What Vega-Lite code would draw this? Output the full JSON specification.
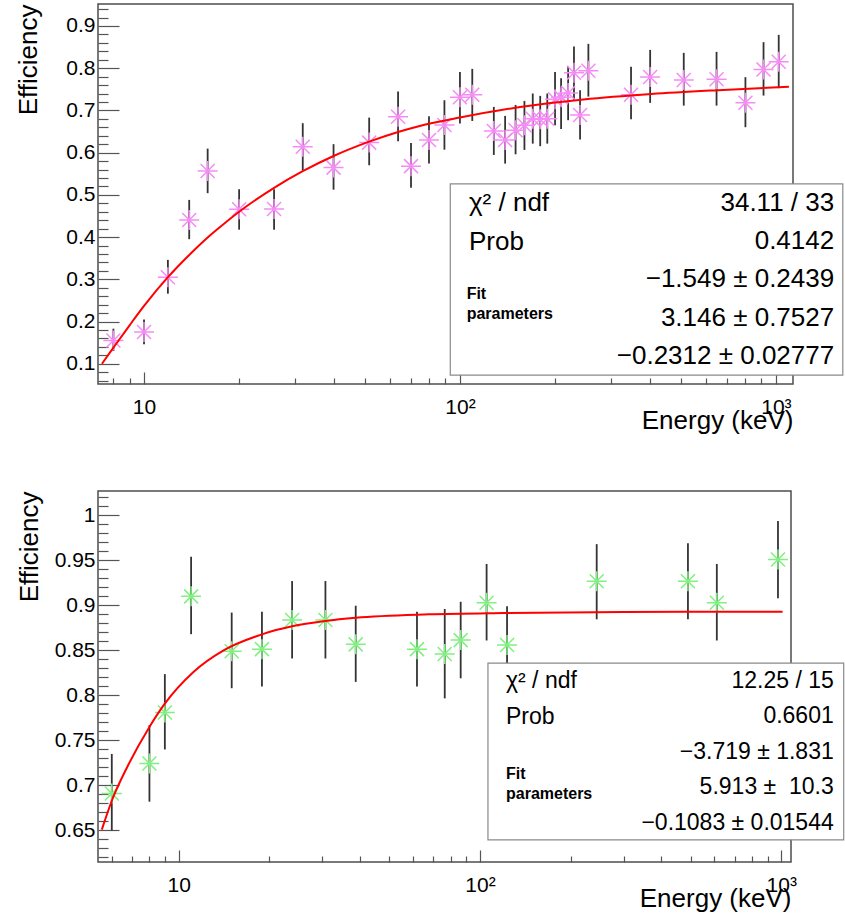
{
  "$schema": "https://vega.github.io/schema/vega-lite/v6.json",
  "padding": {"left": 15, "top": 3, "right": 0, "bottom": 0},
  "background": "white",
  "spacing": 56,
  "config": {
    "font": "Liberation Sans",
    "view": {"stroke": "#4d4d4d", "strokeWidth": 1.5},
    "axis": {
      "grid": false, "domain": false,
      "labelFont": "Liberation Sans", "labelFontSize": 21, "labelColor": "#000",
      "titleFont": "Liberation Sans", "titleFontSize": 26, "titleFontWeight": "normal", "titleColor": "#000",
      "tickColor": "#555", "tickWidth": 1.2, "labelFlush": false, "labelOverlap": false
    }
  },
  "datasets": {
    "top_pts": [
      {"E": 8.0, "eff": 0.155, "lo": 0.130, "hi": 0.183},
      {"E": 10, "eff": 0.175, "lo": 0.146, "hi": 0.205},
      {"E": 11.9, "eff": 0.305, "lo": 0.266, "hi": 0.346},
      {"E": 13.9, "eff": 0.4405, "lo": 0.395, "hi": 0.488},
      {"E": 15.9, "eff": 0.5566, "lo": 0.504, "hi": 0.6095},
      {"E": 20, "eff": 0.466, "lo": 0.4175, "hi": 0.5133},
      {"E": 25.8, "eff": 0.4665, "lo": 0.4175, "hi": 0.5133},
      {"E": 31.8, "eff": 0.614, "lo": 0.5583, "hi": 0.6697},
      {"E": 39.8, "eff": 0.5645, "lo": 0.5123, "hi": 0.62},
      {"E": 51.6, "eff": 0.6237, "lo": 0.5701, "hi": 0.683},
      {"E": 63.7, "eff": 0.685, "lo": 0.627, "hi": 0.7446},
      {"E": 70, "eff": 0.568, "lo": 0.517, "hi": 0.623},
      {"E": 79.8, "eff": 0.63, "lo": 0.574, "hi": 0.6863},
      {"E": 89.3, "eff": 0.6656, "lo": 0.607, "hi": 0.724},
      {"E": 100, "eff": 0.731, "lo": 0.6687, "hi": 0.7912},
      {"E": 109.4, "eff": 0.737, "lo": 0.675, "hi": 0.7983},
      {"E": 128, "eff": 0.651, "lo": 0.5945, "hi": 0.7083},
      {"E": 139, "eff": 0.63, "lo": 0.574, "hi": 0.687},
      {"E": 150, "eff": 0.653, "lo": 0.596, "hi": 0.713},
      {"E": 160, "eff": 0.665, "lo": 0.6064, "hi": 0.7225},
      {"E": 170, "eff": 0.68, "lo": 0.6213, "hi": 0.74},
      {"E": 179.5, "eff": 0.679, "lo": 0.6152, "hi": 0.7344},
      {"E": 189, "eff": 0.68, "lo": 0.6213, "hi": 0.74},
      {"E": 200, "eff": 0.7266, "lo": 0.665, "hi": 0.7912},
      {"E": 209, "eff": 0.731, "lo": 0.6562, "hi": 0.7763},
      {"E": 220, "eff": 0.741, "lo": 0.6768, "hi": 0.8038},
      {"E": 229.6, "eff": 0.789, "lo": 0.7242, "hi": 0.8512},
      {"E": 240, "eff": 0.689, "lo": 0.6308, "hi": 0.7479},
      {"E": 255, "eff": 0.794, "lo": 0.7327, "hi": 0.8576},
      {"E": 348, "eff": 0.737, "lo": 0.6791, "hi": 0.8031},
      {"E": 400, "eff": 0.779, "lo": 0.7178, "hi": 0.8433},
      {"E": 511, "eff": 0.772, "lo": 0.7114, "hi": 0.8363},
      {"E": 649, "eff": 0.774, "lo": 0.7114, "hi": 0.8386},
      {"E": 801, "eff": 0.718, "lo": 0.6602, "hi": 0.7787},
      {"E": 914, "eff": 0.797, "lo": 0.7351, "hi": 0.8616},
      {"E": 1021, "eff": 0.815, "lo": 0.7526, "hi": 0.8789}
    ],
    "top_fit": [
      {"E": 7.36, "eff": 0.1}, {"E": 8, "eff": 0.138}, {"E": 9, "eff": 0.191}, {"E": 10, "eff": 0.237},
      {"E": 12, "eff": 0.308}, {"E": 14, "eff": 0.36}, {"E": 16, "eff": 0.401},
      {"E": 17.8, "eff": 0.43}, {"E": 20, "eff": 0.46}, {"E": 25.8, "eff": 0.5166},
      {"E": 31.8, "eff": 0.556}, {"E": 39.8, "eff": 0.592}, {"E": 51.6, "eff": 0.626},
      {"E": 63.7, "eff": 0.649}, {"E": 73.6, "eff": 0.662}, {"E": 100, "eff": 0.683},
      {"E": 155, "eff": 0.708}, {"E": 246, "eff": 0.726}, {"E": 404, "eff": 0.739},
      {"E": 656, "eff": 0.748}, {"E": 1100, "eff": 0.756}
    ],
    "top_stats": [
      {"labels": ["χ² / ndf", "Prob"],
       "values": ["34.11 / 33", "0.4142", "−1.549 ± 0.2439", "3.146 ± 0.7527", "−0.2312 ± 0.02777"],
       "fit": ["Fit", "parameters"]}
    ],
    "bot_pts": [
      {"E": 6.0, "eff": 0.691, "lo": 0.65, "hi": 0.735},
      {"E": 8.0, "eff": 0.7244, "lo": 0.682, "hi": 0.767},
      {"E": 9.0, "eff": 0.781, "lo": 0.74, "hi": 0.8237},
      {"E": 11.0, "eff": 0.91, "lo": 0.868, "hi": 0.954},
      {"E": 15.0, "eff": 0.849, "lo": 0.808, "hi": 0.892},
      {"E": 18.9, "eff": 0.8514, "lo": 0.81, "hi": 0.893},
      {"E": 23.8, "eff": 0.8837, "lo": 0.841, "hi": 0.927},
      {"E": 30.7, "eff": 0.8837, "lo": 0.841, "hi": 0.927},
      {"E": 38.7, "eff": 0.8567, "lo": 0.815, "hi": 0.8996},
      {"E": 61.8, "eff": 0.8514, "lo": 0.81, "hi": 0.893},
      {"E": 76.4, "eff": 0.846, "lo": 0.7967, "hi": 0.896},
      {"E": 86.3, "eff": 0.8614, "lo": 0.819, "hi": 0.904},
      {"E": 105.2, "eff": 0.903, "lo": 0.861, "hi": 0.946},
      {"E": 123, "eff": 0.856, "lo": 0.813, "hi": 0.899},
      {"E": 244, "eff": 0.9267, "lo": 0.8845, "hi": 0.968},
      {"E": 490, "eff": 0.9267, "lo": 0.8845, "hi": 0.969},
      {"E": 611, "eff": 0.903, "lo": 0.861, "hi": 0.946},
      {"E": 975, "eff": 0.951, "lo": 0.908, "hi": 0.9937}
    ],
    "bot_fit": [
      {"E": 5.56, "eff": 0.651}, {"E": 6.0, "eff": 0.683}, {"E": 6.74, "eff": 0.72},
      {"E": 8.0, "eff": 0.765}, {"E": 8.96, "eff": 0.79}, {"E": 11.2, "eff": 0.826},
      {"E": 14.1, "eff": 0.85}, {"E": 18.9, "eff": 0.8678}, {"E": 23.8, "eff": 0.8767},
      {"E": 30.7, "eff": 0.8826}, {"E": 38.7, "eff": 0.8862}, {"E": 67.7, "eff": 0.89},
      {"E": 120, "eff": 0.8915}, {"E": 300, "eff": 0.8925}, {"E": 1010, "eff": 0.893}
    ],
    "bot_stats": [
      {"labels": ["χ² / ndf", "Prob"],
       "values": ["12.25 / 15", "0.6601", "−3.719 ± 1.831", "5.913 ±\u00a0 10.3", "−0.1083 ± 0.01544"],
       "fit": ["Fit", "parameters"]}
    ]
  },
  "vconcat": [
    {
      "width": 695, "height": 380,
      "resolve": {"axis": {"x": "independent", "y": "independent"}},
      "layer": [
        {
          "data": {"name": "top_pts"},
          "mark": {"type": "rule", "color": "#333", "strokeWidth": 1.8},
          "encoding": {
            "x": {"field": "E", "type": "quantitative",
                  "scale": {"type": "log", "domain": [7.15, 1133], "nice": false},
                  "axis": {"orient": "bottom", "values": [10, 100, 1000],
                           "labelExpr": "datum.value == 10 ? '10' : datum.value == 100 ? '10²' : '10³'",
                           "tickSize": -12, "labelPadding": 24, "title": "Energy (keV)",
                           "titleAnchor": "end", "titlePadding": -10}},
            "y": {"field": "lo", "type": "quantitative",
                  "scale": {"domain": [0.052, 0.952], "nice": false, "zero": false},
                  "axis": {"orient": "left", "values": [0.1, 0.2, 0.3, 0.4, 0.5, 0.6, 0.7, 0.8, 0.9],
                           "format": "~g", "tickSize": -21, "labelPadding": 24,
                           "title": "Efficiency", "titleAnchor": "end", "titlePadding": 24}},
            "y2": {"field": "hi"}
          }
        },
        {
          "data": {"name": "top_pts"},
          "mark": {"type": "point", "shape": "M-1,0L1,0M0,-1L0,1M-0.7,-0.7L0.7,0.7M-0.7,0.7L0.7,-0.7",
                   "size": 400, "filled": false, "stroke": "#f58cf5", "strokeWidth": 1.5, "opacity": 1},
          "encoding": {
            "x": {"field": "E", "type": "quantitative",
                  "scale": {"type": "log", "domain": [7.15, 1133], "nice": false},
                  "axis": {"orient": "bottom", "values": [8, 9, 20, 30, 40, 50, 60, 70, 80, 90, 200, 300, 400, 500, 600, 700, 800, 900],
                           "labels": false, "tickSize": -6, "title": null}},
            "y": {"field": "eff", "type": "quantitative",
                  "scale": {"domain": [0.052, 0.952], "nice": false, "zero": false},
                  "axis": {"orient": "left", "values": [0.06,0.08,0.12,0.14,0.16,0.18,0.22,0.24,0.26,0.28,0.32,0.34,0.36,0.38,0.42,0.44,0.46,0.48,0.52,0.54,0.56,0.58,0.62,0.64,0.66,0.68,0.72,0.74,0.76,0.78,0.82,0.84,0.86,0.88,0.92,0.94],
                           "labels": false, "tickSize": -10, "title": null}}
          }
        },
        {
          "data": {"name": "top_fit"},
          "mark": {"type": "line", "color": "#ff0000", "strokeWidth": 2, "interpolate": "monotone"},
          "encoding": {
            "x": {"field": "E", "type": "quantitative", "scale": {"type": "log", "domain": [7.15, 1133], "nice": false}, "axis": null},
            "y": {"field": "eff", "type": "quantitative", "scale": {"domain": [0.052, 0.952], "nice": false, "zero": false}, "axis": null}
          }
        },
        {
          "data": {"name": "top_stats"},
          "mark": {"type": "rect", "fill": "white", "stroke": "#8a8a8a", "strokeWidth": 1.2},
          "encoding": {
            "x": {"datum": 93.2, "type": "quantitative", "scale": {"type": "log", "domain": [7.15, 1133], "nice": false}, "axis": null},
            "x2": {"datum": 1629},
            "y": {"datum": 0.0732, "type": "quantitative", "scale": {"domain": [0.052, 0.952], "nice": false, "zero": false}, "axis": null},
            "y2": {"datum": 0.5258}
          }
        },
        {
          "data": {"name": "top_stats"},
          "mark": {"type": "text", "align": "left", "baseline": "middle", "fontSize": 26, "lineHeight": 39, "color": "#000"},
          "encoding": {
            "text": {"field": "labels", "type": "nominal"},
            "x": {"datum": 106.8, "type": "quantitative", "scale": {"type": "log", "domain": [7.15, 1133], "nice": false}, "axis": null},
            "y": {"datum": 0.4815, "type": "quantitative", "scale": {"domain": [0.052, 0.952], "nice": false, "zero": false}, "axis": null}
          }
        },
        {
          "data": {"name": "top_stats"},
          "mark": {"type": "text", "align": "right", "baseline": "middle", "fontSize": 26, "lineHeight": 38.3, "color": "#000"},
          "encoding": {
            "text": {"field": "values", "type": "nominal"},
            "x": {"datum": 1530, "type": "quantitative", "scale": {"type": "log", "domain": [7.15, 1133], "nice": false}, "axis": null},
            "y": {"datum": 0.4815, "type": "quantitative", "scale": {"domain": [0.052, 0.952], "nice": false, "zero": false}, "axis": null}
          }
        },
        {
          "data": {"name": "top_stats"},
          "mark": {"type": "text", "align": "left", "baseline": "middle", "fontSize": 16, "fontWeight": "bold", "lineHeight": 20, "color": "#000"},
          "encoding": {
            "text": {"field": "fit", "type": "nominal"},
            "x": {"datum": 105, "type": "quantitative", "scale": {"type": "log", "domain": [7.15, 1133], "nice": false}, "axis": null},
            "y": {"datum": 0.2645, "type": "quantitative", "scale": {"domain": [0.052, 0.952], "nice": false, "zero": false}, "axis": null}
          }
        }
      ]
    },
    {
      "width": 693, "height": 371,
      "resolve": {"axis": {"x": "independent", "y": "independent"}},
      "layer": [
        {
          "data": {"name": "bot_pts"},
          "mark": {"type": "rule", "color": "#333", "strokeWidth": 1.8},
          "encoding": {
            "x": {"field": "E", "type": "quantitative",
                  "scale": {"type": "log", "domain": [5.4, 1077], "nice": false},
                  "axis": {"orient": "bottom", "values": [10, 100, 1000],
                           "labelExpr": "datum.value == 10 ? '10' : datum.value == 100 ? '10²' : '10³'",
                           "tickSize": -12, "labelPadding": 24, "title": "Energy (keV)",
                           "titleAnchor": "end", "titlePadding": -10}},
            "y": {"field": "lo", "type": "quantitative",
                  "scale": {"domain": [0.615, 1.027], "nice": false, "zero": false},
                  "axis": {"orient": "left", "values": [0.65, 0.7, 0.75, 0.8, 0.85, 0.9, 0.95, 1],
                           "format": "~g", "tickSize": -21, "labelPadding": 24,
                           "title": "Efficiency", "titleAnchor": "end", "titlePadding": 12}},
            "y2": {"field": "hi"}
          }
        },
        {
          "data": {"name": "bot_pts"},
          "mark": {"type": "point", "shape": "M-1,0L1,0M0,-1L0,1M-0.7,-0.7L0.7,0.7M-0.7,0.7L0.7,-0.7",
                   "size": 400, "filled": false, "stroke": "#80f080", "strokeWidth": 1.5, "opacity": 1},
          "encoding": {
            "x": {"field": "E", "type": "quantitative",
                  "scale": {"type": "log", "domain": [5.4, 1077], "nice": false},
                  "axis": {"orient": "bottom", "values": [6, 7, 8, 9, 20, 30, 40, 50, 60, 70, 80, 90, 200, 300, 400, 500, 600, 700, 800, 900],
                           "labels": false, "tickSize": -6, "title": null}},
            "y": {"field": "eff", "type": "quantitative",
                  "scale": {"domain": [0.615, 1.027], "nice": false, "zero": false},
                  "axis": {"orient": "left", "values": [0.62,0.63,0.64,0.66,0.67,0.68,0.69,0.71,0.72,0.73,0.74,0.76,0.77,0.78,0.79,0.81,0.82,0.83,0.84,0.86,0.87,0.88,0.89,0.91,0.92,0.93,0.94,0.96,0.97,0.98,0.99,1.01,1.02],
                           "labels": false, "tickSize": -10, "title": null}}
          }
        },
        {
          "data": {"name": "bot_fit"},
          "mark": {"type": "line", "color": "#ff0000", "strokeWidth": 2, "interpolate": "monotone"},
          "encoding": {
            "x": {"field": "E", "type": "quantitative", "scale": {"type": "log", "domain": [5.4, 1077], "nice": false}, "axis": null},
            "y": {"field": "eff", "type": "quantitative", "scale": {"domain": [0.615, 1.027], "nice": false, "zero": false}, "axis": null}
          }
        },
        {
          "data": {"name": "bot_stats"},
          "mark": {"type": "rect", "fill": "white", "stroke": "#8a8a8a", "strokeWidth": 1.2},
          "encoding": {
            "x": {"datum": 106.3, "type": "quantitative", "scale": {"type": "log", "domain": [5.4, 1077], "nice": false}, "axis": null},
            "x2": {"datum": 1611},
            "y": {"datum": 0.6396, "type": "quantitative", "scale": {"domain": [0.615, 1.027], "nice": false, "zero": false}, "axis": null},
            "y2": {"datum": 0.8359}
          }
        },
        {
          "data": {"name": "bot_stats"},
          "mark": {"type": "text", "align": "left", "baseline": "middle", "fontSize": 23, "lineHeight": 36, "color": "#000"},
          "encoding": {
            "text": {"field": "labels", "type": "nominal"},
            "x": {"datum": 122, "type": "quantitative", "scale": {"type": "log", "domain": [5.4, 1077], "nice": false}, "axis": null},
            "y": {"datum": 0.8159, "type": "quantitative", "scale": {"domain": [0.615, 1.027], "nice": false, "zero": false}, "axis": null}
          }
        },
        {
          "data": {"name": "bot_stats"},
          "mark": {"type": "text", "align": "right", "baseline": "middle", "fontSize": 23, "lineHeight": 35.4, "color": "#000"},
          "encoding": {
            "text": {"field": "values", "type": "nominal"},
            "x": {"datum": 1493, "type": "quantitative", "scale": {"type": "log", "domain": [5.4, 1077], "nice": false}, "axis": null},
            "y": {"datum": 0.8159, "type": "quantitative", "scale": {"domain": [0.615, 1.027], "nice": false, "zero": false}, "axis": null}
          }
        },
        {
          "data": {"name": "bot_stats"},
          "mark": {"type": "text", "align": "left", "baseline": "middle", "fontSize": 16, "fontWeight": "bold", "lineHeight": 20, "color": "#000"},
          "encoding": {
            "text": {"field": "fit", "type": "nominal"},
            "x": {"datum": 122, "type": "quantitative", "scale": {"type": "log", "domain": [5.4, 1077], "nice": false}, "axis": null},
            "y": {"datum": 0.7129, "type": "quantitative", "scale": {"domain": [0.615, 1.027], "nice": false, "zero": false}, "axis": null}
          }
        }
      ]
    }
  ]
}
